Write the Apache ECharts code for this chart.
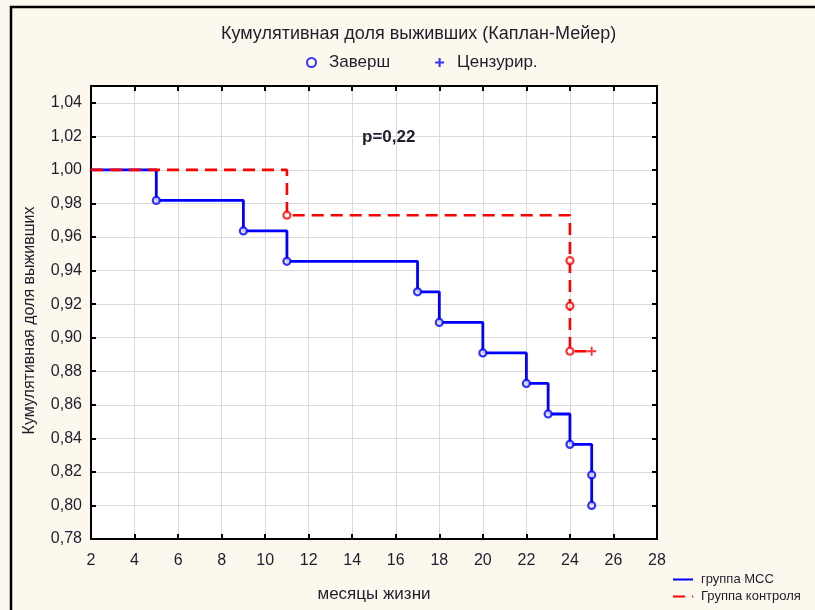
<!DOCTYPE html>
<html><head><meta charset="utf-8">
<script src="https://cdn.jsdelivr.net/npm/echarts@6/dist/echarts.min.js"></script>
<style>html,body{margin:0;padding:0;background:#fdf8ee}#c{width:815px;height:610px}</style>
</head><body><div id="c"></div>
<script>
// ---- data ----
const chartTitle = 'Кумулятивная доля выживших (Каплан-Мейер)';
const xAxisName = 'месяцы жизни';
const yAxisName = 'Кумулятивная доля выживших';
const pText = 'p=0,22';
const groupNames = ['группа МСС', 'Группа контроля'];
const markerNames = ['Заверш', 'Цензурир.'];
// Kaplan-Meier step curves (time, cumulative survival)
const mccTimes = [2, 5, 9, 11, 17, 18, 20, 22, 23, 24, 25, 25];
const mccSurv  = [1.0, 0.9818, 0.9636, 0.9455, 0.9273, 0.9091, 0.8909, 0.8727, 0.8545, 0.8364, 0.8182, 0.8000];
const ctrlTimes = [2, 11, 24, 24, 24, 25];
const ctrlSurv  = [1.0, 0.9730, 0.9459, 0.9189, 0.8919, 0.8919];
// completed events (circles)
const mccEventTimes = [5, 9, 11, 17, 18, 20, 22, 23, 24, 25, 25];
const mccEventSurv  = [0.9818, 0.9636, 0.9455, 0.9273, 0.9091, 0.8909, 0.8727, 0.8545, 0.8364, 0.8182, 0.8000];
const ctrlEventTimes = [11, 24, 24, 24];
const ctrlEventSurv  = [0.9730, 0.9459, 0.9189, 0.8919];
// censored (+)
const ctrlCensTimes = [25];
const ctrlCensSurv  = [0.8919];
// axes
const xMin = 2, xMax = 28, xStep = 2;
const yMin = 0.78, yMax = 1.05, yStep = 0.02;

const BLUE = '#0000ff', RED = '#ff0000', TXT = '#1e1e2c';
const FONT = 'Liberation Sans, Arial, sans-serif';

const zip = (a, b) => a.map((v, i) => [v, b[i]]);
const fmtY = v => {
  if (Math.abs(v / yStep - Math.round(v / yStep)) > 1e-6) return '';
  return v.toFixed(2).replace('.', ',');
};

const axisLineStyle = { color: '#000', width: 2 };
const tickStyle = { inside: true, length: 5, lineStyle: { color: '#000', width: 2 } };
const gridLine = { show: true, lineStyle: { color: '#dadada', width: 1 } };
const lblStyle = { color: TXT, fontSize: 16, fontFamily: FONT };

const chart = echarts.init(document.getElementById('c'));
chart.setOption({
  backgroundColor: '#fdf8ee',
  animation: false,
  title: {
    text: chartTitle, left: 216, top: 20,
    textStyle: { fontSize: 18, fontWeight: 'normal', color: TXT, fontFamily: FONT }
  },
  legend: [
    {
      data: markerNames, left: 301, top: 49, itemWidth: 9, itemHeight: 9, itemGap: 44,
      textStyle: { fontSize: 17, color: TXT, fontFamily: FONT, padding: [0, 0, 0, 8] }
    },
    {
      data: groupNames, orient: 'vertical', left: 672, top: 573, padding: 0,
      itemWidth: 20, itemHeight: 8, itemGap: 4,
      itemStyle: { opacity: 0 },
      textStyle: { fontSize: 13, color: TXT, fontFamily: FONT, padding: [0, 0, 0, 3] }
    }
  ],
  grid: { left: 91, top: 86, width: 566, height: 453, show: true, backgroundColor: '#ffffff', borderWidth: 0 },
  xAxis: [
    {
      type: 'value', min: xMin, max: xMax, interval: xStep, position: 'bottom',
      axisLine: { lineStyle: axisLineStyle }, axisTick: tickStyle, splitLine: gridLine,
      axisLabel: Object.assign({ margin: 14 }, lblStyle),
      name: xAxisName, nameLocation: 'middle', nameGap: 47,
      nameTextStyle: { fontSize: 17, color: TXT, fontFamily: FONT }
    },
    {
      type: 'value', min: xMin, max: xMax, interval: xStep, position: 'top',
      axisLine: { lineStyle: axisLineStyle }, axisTick: tickStyle, splitLine: { show: false },
      axisLabel: { show: false }
    }
  ],
  yAxis: [
    {
      type: 'value', min: yMin, max: yMax, interval: yStep, position: 'left',
      axisLine: { lineStyle: axisLineStyle }, axisTick: tickStyle, splitLine: gridLine,
      axisLabel: Object.assign({ margin: 9, formatter: fmtY, showMaxLabel: false }, lblStyle),
      name: yAxisName, nameLocation: 'middle', nameGap: 53,
      nameTextStyle: { fontSize: 16, color: TXT, fontFamily: FONT, padding: [0, 16, 0, 0] }
    },
    {
      type: 'value', min: yMin, max: yMax, interval: yStep, position: 'right',
      axisLine: { lineStyle: axisLineStyle }, axisTick: tickStyle, splitLine: { show: false },
      axisLabel: { show: false }
    }
  ],
  series: [
    {
      name: groupNames[0], type: 'line', step: 'end', data: zip(mccTimes, mccSurv),
      symbol: 'none', lineStyle: { color: BLUE, width: 2.8 }, itemStyle: { color: BLUE }, z: 3
    },
    {
      name: groupNames[1], type: 'line', step: 'end', data: zip(ctrlTimes, ctrlSurv),
      symbol: 'none', lineStyle: { color: RED, width: 2.6, type: [12, 7] }, itemStyle: { color: RED }, z: 4
    },
    {
      name: markerNames[0], type: 'scatter', symbol: 'circle', symbolSize: 7, z: 5,
      itemStyle: { color: '#ffffff', borderColor: BLUE, borderWidth: 2.2 },
      data: zip(mccEventTimes, mccEventSurv).concat(
        zip(ctrlEventTimes, ctrlEventSurv).map(p => ({ value: p, itemStyle: { borderColor: RED } })))
    },
    {
      name: markerNames[1], type: 'scatter', symbol: 'path://M0,5L10,5M5,0L5,10', symbolSize: 9, z: 5,
      itemStyle: { color: 'rgba(0,0,0,0)', borderColor: BLUE, borderWidth: 1.8 },
      data: zip(ctrlCensTimes, ctrlCensSurv).map(p => ({ value: p, itemStyle: { borderColor: RED } }))
    }
  ],
  graphic: [
    { type: 'rect', silent: true, z: 100, shape: { x: 11, y: 7, width: 900, height: 800 },
      style: { fill: 'none', stroke: '#000', lineWidth: 2.5 } },
    { type: 'text', silent: true, z: 100, left: 362, top: 129,
      style: { text: pText, fontSize: 17, fontWeight: 'bold', fill: TXT, fontFamily: FONT } }
  ]
});
</script></body></html>
